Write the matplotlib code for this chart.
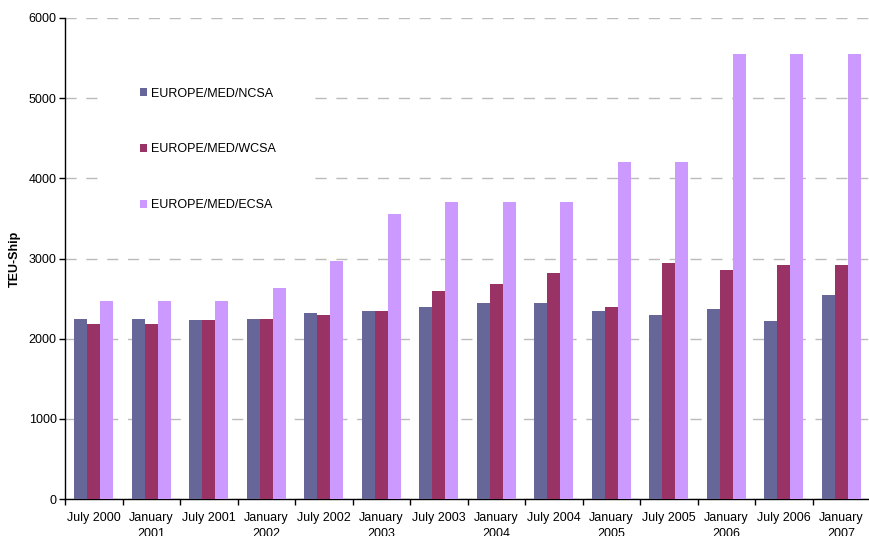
import matplotlib
matplotlib.use("Agg")
import matplotlib.pyplot as plt
import numpy as np

periods = ["July 2000", "January\n2001", "July 2001", "January\n2002",
           "July 2002", "January\n2003", "July 2003", "January\n2004",
           "July 2004", "January\n2005", "July 2005", "January\n2006",
           "July 2006", "January\n2007"]
ncsa = [2240, 2240, 2230, 2250, 2315, 2350, 2400, 2450,
        2450, 2350, 2290, 2375, 2225, 2540]
wcsa = [2180, 2180, 2230, 2250, 2300, 2340, 2600, 2680,
        2815, 2390, 2940, 2860, 2915, 2915]
ecsa = [2465, 2465, 2465, 2630, 2965, 3550, 3700, 3700,
        3700, 4200, 4205, 5555, 5555, 5555]
series = ["EUROPE/MED/NCSA", "EUROPE/MED/WCSA", "EUROPE/MED/ECSA"]
colors = ["#666699", "#993366", "#CC99FF"]

plt.rcParams['font.family'] = ['Liberation Sans', 'DejaVu Sans']

W, H = 869, 536
fig = plt.figure(figsize=(W / 100, H / 100), dpi=100)
ax = fig.add_axes([65 / W, (H - 499) / H, 805 / W, 481 / H])

x = np.arange(len(periods))
bw = 0.226
for i, (vals, name, c) in enumerate(zip([ncsa, wcsa, ecsa], series, colors)):
    ax.bar(x + (i - 1) * bw, vals, bw, color=c, label=name, zorder=3)

ax.set_xlim(-0.5, len(periods) - 0.5)
ax.set_ylim(0, 6000)
ax.set_yticks(range(0, 6001, 1000))
ax.yaxis.grid(True, color="#bbbbbb", linestyle=(0, (8, 7)), linewidth=1, zorder=0)

# category labels between boundary ticks
ax.set_xticks(np.arange(len(periods) + 1) - 0.5)
ax.set_xticklabels([])
ax.set_xticks(x, minor=True)
ax.set_xticklabels(periods, minor=True, fontsize=9, va="top", linespacing=1.5)
ax.tick_params(axis="x", which="minor", length=0, pad=9)
ax.tick_params(axis="x", which="major", length=4, width=1, direction="out")
ax.tick_params(axis="y", length=4, width=1, direction="out", labelsize=9, pad=2)

for s in ["top", "right"]:
    ax.spines[s].set_visible(False)
for s in ["left", "bottom"]:
    ax.spines[s].set_color("black")
    ax.spines[s].set_linewidth(1)

ax.set_ylabel("TEU-Ship", fontsize=9, fontweight="bold")
ax.yaxis.set_label_coords(-44 / 805, 0.5)

leg = ax.legend(loc="upper left", bbox_to_anchor=(96 / W, 1 - 44 / H),
                bbox_transform=fig.transFigure, fontsize=9, frameon=True,
                labelspacing=3.5, handlelength=0.6, handleheight=0.6,
                handletextpad=0.3, borderpad=3.0, fancybox=False)
leg.get_frame().set_facecolor("white")
leg.get_frame().set_edgecolor("none")
leg.get_frame().set_alpha(1)
leg.set_zorder(4)

fig.savefig("out.png", dpi=100)
